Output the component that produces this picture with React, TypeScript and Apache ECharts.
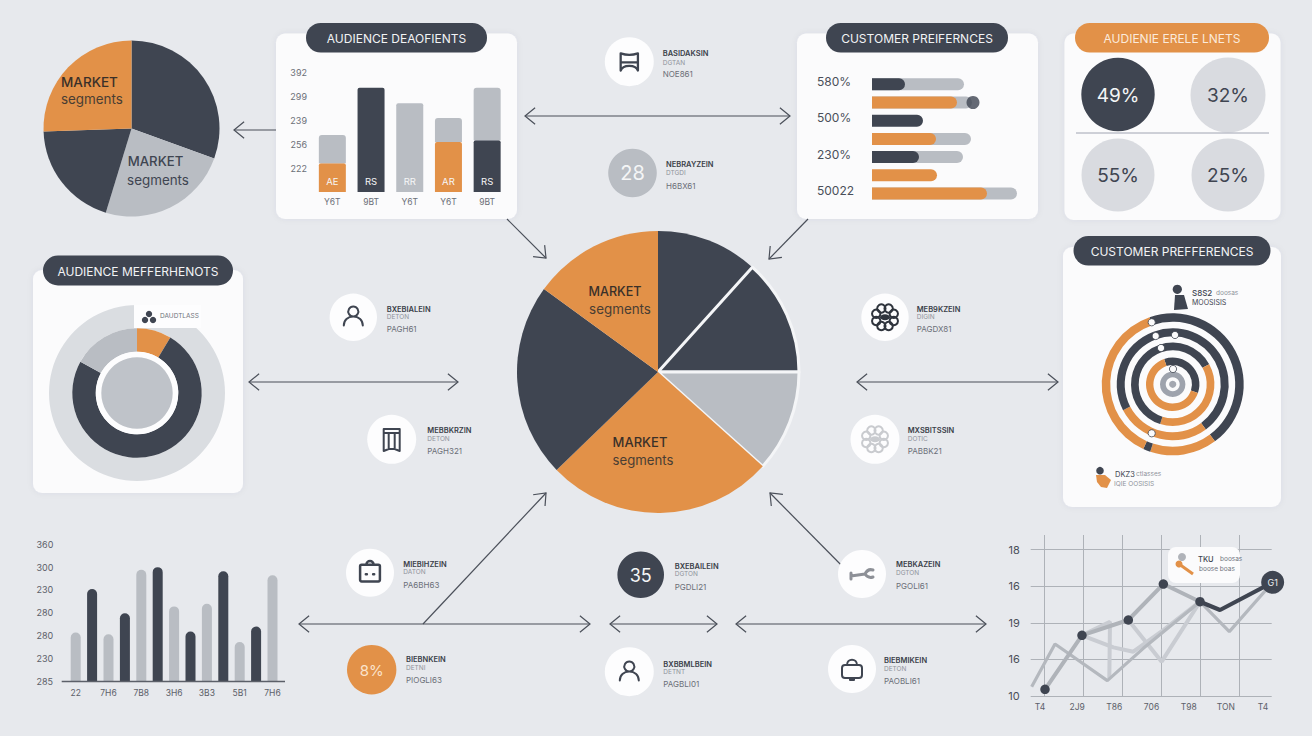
import React, { useEffect, useRef } from "react";
import * as echarts from "echarts";

const DARK = "#3f4551";
const ORANGE = "#e29148";
const GRAY = "#b9bdc3";
const LIGHT = "#d9dbe0";
const BG = "#e7e9ed";
const CARD = "#fbfbfc";
const FONT = "Inter, Roboto, sans-serif";

// ---- data ----
const cornerPieValues = [110, 87, 71, 92];
const centerPieValues = [42, 48, 42, 94, 80, 54];
const donutValues = [31, 268, 61];
const ring1Values = [162.5, 55, 6, 136.5];
const ring2Values = [163.7, 98.8, 97.5];
const ring3Values = [80.5, 136.5, 143];
const ring4Values = [127.7, 232.3];

const audienceCats = ["Y6T", "9BT", "Y6T", "Y6T", "9BT"];
const audienceTicks = ["", "222", "256", "239", "299", "392"];
const audienceLower = [60, 217, 185, 104, 108];
const audienceUpper = [59, 0, 0, 50, 109];
const audienceBarText = ["AE", "RS", "RR", "AR", "RS"];

const prefRows = ["580%", "", "500%", "", "230%", "", "50022"];
const prefTrack = [92, 100, null, 99, 91, null, 145];
const prefFront = [33, 85, 51, 64, 47, 65, 115];
const prefDot = 101;

const columnCats = ["22", "", "7H6", "", "7B8", "", "3H6", "", "3B3", "", "5B1", "", "7H6"];
const columnTicks = ["285", "230", "280", "280", "230", "300", "360"];
const columnValues = [107, 202, 103, 149, 244, 250, 164, 109, 170, 241, 86, 120, 232];

const lineCats = ["T4", "2J9", "T86", "706", "T98", "TON", "T4"];
const lineTicks = ["10", "16", "19", "16", "18"];
const lineMain = [[1.026, 0.182], [1.974, 1.658], [3.162, 2.077], [4.06, 3.06], [5, 2.577]];
const lineMainEnd = [[5, 2.577], [5.513, 2.35], [6.863, 3.106]];
const lineB = [[0.684, 0.255], [1.282, 1.421], [2.624, 0.419], [3.547, 1.302], [5, 2.577], [5.752, 1.758], [6.863, 3.106]];
const lineC = [[1.974, 1.658], [2.692, 2.031], [2.675, 0.483]];
const lineD = [[1.974, 1.658], [2.778, 1.33], [3.291, 1.211], [4.06, 1.803], [5, 2.577]];
const lineE = [[3.162, 2.077], [4.017, 0.938], [5, 2.577]];

const gaugePercents = ["49%", "32%", "55%", "25%"];

const nodeLabels = [
  ["BASIDAKSIN", "DGTAN", "NOE861"],
  ["NEBRAYZEIN", "DTGDI", "H6BX61"],
  ["BXEBIALEIN", "DETON", "PAGH61"],
  ["MEBBKRZIN", "DETON", "PAGH321"],
  ["MEB9KZEIN", "DIGIN", "PAGDX81"],
  ["MXSBITSSIN", "DOTIC", "PABBK21"],
  ["MIEBIHZEIN", "DATON", "PA6BH63"],
  ["BXEBAILEIN", "DGTON", "PGDLI21"],
  ["BIEBNKEIN", "DETNI", "PIOGLI63"],
  ["BXBBMLBEIN", "DETNT", "PAGBLI01"],
  ["MEBKAZEIN", "DGTON", "PGOLI61"],
  ["BIEBMIKEIN", "DETON", "PAOBLI61"],
];

// ---- icons ----
const shapes: Record<string, string> = {
  person: "M12 2.5a5 5 0 1 1-0.01 0z M2.5 21.5c0-5.5 4-9 9.5-9s9.5 3.5 9.5 9",
  chair: "M3 3c6 2 12 2 18 0v18c-1-3-3-5-9-5s-8 2-9 5z M3 12.5h18",
  bin: "M4 1h16v4H4z M4 5v18l5-2V5 M9 21h6V5 M15 21l5 2V5 M20 5v18",
  bag: "M4 6h16a1.5 1.5 0 0 1 1.5 1.5v13a1.5 1.5 0 0 1-1.5 1.5H4a1.5 1.5 0 0 1-1.5-1.5v-13A1.5 1.5 0 0 1 4 6z M8.5 6a3.5 3.5 0 1 1 7 0z M8 15h1 M15 15h1",
  lock: "M5 8h14a3 3 0 0 1 3 3v7a3 3 0 0 1-3 3H5a3 3 0 0 1-3-3v-7a3 3 0 0 1 3-3z M7 8c0-7 10-7 10 0 M10 21v2h4v-2",
  tool: "M1 14l14-2 M15 12c2-4 5-5 8-4 M15 12c2 3 5 4 8 3 M1 11v6",
};
Object.keys(shapes).forEach((k) =>
  echarts.graphic.registerShape("ic_" + k, echarts.graphic.extendPath(shapes[k], {}))
);

const T = (text: string, x: number, y: number, fontSize: number, fill: string, align = "left", fontWeight: any = 400, z = 100) => ({
  type: "text",
  x,
  y,
  z,
  silent: true,
  style: { text, fill, fontSize, fontWeight, fontFamily: FONT, align, verticalAlign: "middle", textAlign: align, textVerticalAlign: "middle" },
});
const C = (cx: number, cy: number, r: number, fill: string, stroke?: string, lineWidth = 0, z = 50) => ({
  type: "circle",
  z,
  silent: true,
  shape: { cx, cy, r },
  style: { fill, stroke, lineWidth },
});
const card = (x: number, y: number, w: number, h: number) => ({
  type: "rect",
  z: -5,
  silent: true,
  shape: { x, y, width: w, height: h, r: 9 },
  style: { fill: CARD, shadowBlur: 6, shadowColor: "rgba(60,70,90,0.06)" },
});
const pill = (x: number, y: number, w: number, h: number, fill: string, text: string, color: string) => [
  { type: "rect", z: 60, silent: true, shape: { x, y, width: w, height: h, r: h / 2 }, style: { fill } },
  T(text, x + w / 2, y + h / 2 + 0.5, 12, color, "center", 400, 61),
];
const icon = (name: string, cx: number, cy: number, size: number, color: string, lineWidth = 2) => ({
  type: "ic_" + name,
  x: cx - size / 2,
  y: cy - size / 2,
  scaleX: size / 24,
  scaleY: size / 24,
  z: 70,
  silent: true,
  style: { fill: "none", stroke: color, lineWidth, lineCap: "round", lineJoin: "round" },
});
const flower = (cx: number, cy: number, color: string, lw: number) => {
  const out: any[] = [];
  for (let i = 0; i < 8; i++) {
    const a = (i * Math.PI) / 4 + Math.PI / 8;
    out.push(C(cx + Math.cos(a) * 9.5, cy + Math.sin(a) * 9.5, 4.2, "none", color, lw, 70));
  }
  out.push({ type: "ellipse", z: 70, silent: true, shape: { cx, cy, rx: 5, ry: 3 }, style: { fill: color } });
  return out;
};

const ARROW = "#4a4f59";
const head = (x: number, y: number, ang: number) => {
  const L = 13;
  const s = 0.68;
  return {
    type: "polyline",
    z: 20,
    silent: true,
    shape: {
      points: [
        [x - L * Math.cos(ang - s), y - L * Math.sin(ang - s)],
        [x, y],
        [x - L * Math.cos(ang + s), y - L * Math.sin(ang + s)],
      ],
    },
    style: { fill: "none", stroke: ARROW, lineWidth: 1.2 },
  };
};
const arrow = (x1: number, y1: number, x2: number, y2: number, both: boolean) => {
  const ang = Math.atan2(y2 - y1, x2 - x1);
  const els: any[] = [
    { type: "line", z: 20, silent: true, shape: { x1, y1, x2, y2 }, style: { stroke: ARROW, lineWidth: 1.2 } },
    head(x2, y2, ang),
  ];
  if (both) els.push(head(x1, y1, ang + Math.PI));
  return els;
};

const node = (i: number, cx: number, cy: number, r: number, fill: string, tx: number, y1: number, y2: number, y3: number) => [
  C(cx, cy, r, fill, undefined, 0, 40),
  T(nodeLabels[i][0], tx, y1, 7.5, "#3a3f49", "left", 600, 45),
  T(nodeLabels[i][1], tx, y2, 6.5, "#8f939b", "left", 400, 45),
  T(nodeLabels[i][2], tx, y3, 8, "#6b6f78", "left", 400, 45),
];

const buildGraphics = () => {
  const e: any[] = [];
  // cards
  e.push(card(276, 33.5, 241, 185.5), card(797, 33.5, 241, 185.5), card(1064.5, 33.5, 216, 186.5), card(33, 270, 210, 223), card(1063, 247, 218, 260));
  e.push(
    ...pill(306, 23, 181, 29.5, DARK, "AUDIENCE DEAOFIENTS", "#f2f3f5"),
    ...pill(826, 23, 182, 29.5, DARK, "CUSTOMER PREIFERNCES", "#f2f3f5"),
    ...pill(1075, 23, 194, 29.5, ORANGE, "AUDIENIE ERELE LNETS", "#fbeadb"),
    ...pill(43, 255.5, 190, 30, DARK, "AUDIENCE MEFFERHENOTS", "#f2f3f5"),
    ...pill(1073.5, 236, 197, 29.5, DARK, "CUSTOMER PREFFERENCES", "#f2f3f5")
  );
  // arrows
  e.push(
    ...arrow(525, 116, 790, 116, true),
    ...arrow(276, 130, 234, 130, false),
    ...arrow(507, 219, 546, 258, false),
    ...arrow(808, 219, 769, 259, false),
    ...arrow(249, 382, 458, 382, true),
    ...arrow(857, 382, 1058, 382, true),
    ...arrow(299, 624, 590, 624, true),
    ...arrow(610, 624, 717, 624, true),
    ...arrow(736, 624, 986, 624, true),
    ...arrow(423, 624, 546, 493, false),
    ...arrow(852, 576, 770, 493, false)
  );
  // nodes
  e.push(...node(0, 629.3, 61.7, 24.5, "#fdfdfe", 662.7, 53.3, 63.3, 74.3), icon("chair", 629.3, 62, 23, DARK, 2.4));
  e.push(...node(1, 632.5, 173, 24.3, GRAY, 666, 164.3, 172.7, 185.7), T("28", 632.5, 173, 20, "#f4f5f6", "center", 400, 70));
  e.push(...node(2, 353.3, 317.3, 23.7, "#fdfdfe", 386.7, 309, 317.3, 329.3), icon("person", 353.3, 316, 24, DARK));
  e.push(...node(3, 391.7, 439.3, 24.5, "#fdfdfe", 427.3, 430, 438.7, 450.7), icon("bin", 391.7, 440, 24, DARK));
  e.push(...node(4, 885, 317.3, 23.7, "#fdfdfe", 916.7, 309, 317.3, 329.3), ...flower(885, 317.3, "#2f343d", 2));
  e.push(...node(5, 875, 439.3, 24.5, "#fdfdfe", 907.7, 430, 438.7, 450.7), ...flower(875, 439.3, "#c9cbcf", 2));
  e.push(...node(6, 370, 572.7, 24, "#fdfdfe", 403.3, 564, 572.3, 585), icon("bag", 370, 571, 25, DARK, 2.4));
  e.push(...node(7, 640.7, 574.7, 23.3, DARK, 674.7, 566, 574.3, 586.7), T("35", 640.7, 575, 18, "#f4f5f6", "center", 400, 70));
  e.push(...node(8, 371.7, 669.7, 24.7, ORANGE, 406, 659.3, 667.7, 680), T("8%", 371.7, 670, 15, "#fbe3cb", "center", 400, 70));
  e.push(...node(9, 629.3, 671.7, 24.5, "#fdfdfe", 663.3, 664, 672.3, 684), icon("person", 629.3, 671, 24, DARK));
  e.push(...node(10, 862, 574, 24, "#fdfdfe", 896, 564.5, 573, 585.5), icon("tool", 862, 574, 24, "#8d9097", 3));
  e.push(...node(11, 852, 669, 24, "#fdfdfe", 884, 660, 669, 681), icon("lock", 852, 669, 24, DARK));
  // pie labels
  e.push(
    T("MARKET", 61, 82, 13.5, "#3a3028", "left", 500),
    T("segments", 61, 99, 13.4, "#4a3e33", "left", 400),
    T("MARKET", 155.5, 161, 13.2, DARK, "center", 500),
    T("segments", 158, 180, 13.4, DARK, "center", 400),
    T("MARKET", 615, 291, 12.6, "#3a3028", "center", 500),
    T("segments", 620, 309, 13.4, "#4a3e33", "center", 400),
    T("MARKET", 640, 442, 13, "#3a3028", "center", 500),
    T("segments", 643, 460, 13.2, "#4a3e33", "center", 400)
  );
  // percent discs
  const discs = [
    [1118, 94.5, 36.7, DARK, "#f4f5f6"],
    [1228, 95, 37.5, LIGHT, DARK],
    [1118, 175, 36.5, LIGHT, DARK],
    [1228, 175, 36.5, LIGHT, DARK],
  ] as const;
  discs.forEach((d, i) => {
    e.push(C(d[0], d[1], d[2], d[3]));
    e.push(T(gaugePercents[i], d[0], d[1] + 0.5, 19, d[4], "center", 400, 55));
  });
  e.push({ type: "line", z: 50, silent: true, shape: { x1: 1076, y1: 133, x2: 1269, y2: 133 }, style: { stroke: "#a0a4b2", lineWidth: 1 } });
  // donut tag
  e.push(
    { type: "rect", z: 30, silent: true, shape: { x: 134, y: 305, width: 67, height: 23 }, style: { fill: "#fdfdfe" } },
    C(145, 320, 3.2, DARK, undefined, 0, 31),
    C(149, 314, 3.2, DARK, undefined, 0, 31),
    C(153, 320, 3.2, DARK, undefined, 0, 31),
    T("DAUDTLASS", 160, 315.7, 6.5, "#70747c", "left", 400, 31)
  );
  // ring labels and dots
  e.push(
    C(1177.3, 289.3, 4.6, DARK),
    { type: "polygon", z: 50, silent: true, shape: { points: [[1175, 295], [1184, 295], [1188, 309], [1174, 310]] }, style: { fill: DARK } },
    T("S8S2", 1192, 292.7, 8, DARK, "left", 500),
    T("doosas", 1216, 292.7, 6.5, "#8f939b"),
    T("MOOSISIS", 1192, 302.7, 7, DARK),
    C(1100, 470.7, 3.8, DARK),
    { type: "polygon", z: 50, silent: true, shape: { points: [[1096, 475], [1105, 475], [1111, 480], [1107, 488], [1101, 487], [1097, 482]] }, style: { fill: ORANGE } },
    T("DKZ3", 1115, 474.3, 7.5, DARK),
    T("ctlasses", 1136, 474.3, 6.5, "#8f939b"),
    T("IQIE OOSISIS", 1114, 484, 6.5, "#8f939b")
  );
  [[1151.7, 322.3], [1155.7, 336], [1175, 335], [1161, 348], [1173, 369], [1151.7, 433.3]].forEach((p) => {
    e.push(C(p[0], p[1], 3.6, "#fbfbfc", DARK, 0.8, 50));
  });
  // line tag
  e.push(
    { type: "rect", z: 50, silent: true, shape: { x: 1168, y: 547, width: 72, height: 36, r: 8 }, style: { fill: "#fbfbfc" } },
    C(1182, 557, 4, "#b0b3b9", undefined, 0, 51),
    { type: "line", z: 51, silent: true, shape: { x1: 1179, y1: 564, x2: 1193, y2: 574 }, style: { stroke: ORANGE, lineWidth: 3 } },
    C(1179, 564, 3.5, ORANGE, undefined, 0, 51),
    T("TKU", 1198, 559, 7.5, DARK, "left", 500, 52),
    T("boosas", 1220, 559, 6.5, "#70747c", "left", 400, 52),
    T("boose boas", 1199, 569, 6.5, "#70747c", "left", 400, 52)
  );
  // bottom-left baseline
  e.push({ type: "line", z: 5, silent: true, shape: { x1: 61.7, y1: 681.5, x2: 285, y2: 681.5 }, style: { stroke: "#5c6069", lineWidth: 1.4 } });
  return e;
};

const pieBase = { type: "pie", silent: true, animation: false, label: { show: false }, labelLine: { show: false }, emphasis: { disabled: true }, avoidLabelOverlap: false };
const ring = (values: number[], colors: string[], inner: number, outer: number, startAngle: number, cx: number, cy: number) => ({
  ...pieBase,
  center: [cx, cy],
  radius: [inner, outer],
  startAngle,
  data: values.map((value, i) => ({ value, itemStyle: { color: colors[i] } })),
});

const thin = (data: number[][], color: string, width: number) => ({
  type: "line",
  xAxisIndex: 4,
  yAxisIndex: 4,
  data,
  symbol: "none",
  silent: true,
  lineStyle: { color, width },
});

const option: any = {
  animation: false,
  backgroundColor: BG,
  graphic: { elements: buildGraphics() },
  grid: [
    { left: 313, top: 72, width: 193.5, height: 120 },
    { left: 872, top: 75.2, width: 160, height: 127.4 },
    { left: 67.5, top: 544.3, width: 213.2, height: 137 },
    { left: 1030.7, top: 535, width: 241, height: 161 },
    { left: 1005, top: 535, width: 273, height: 161 },
    { left: 1040, top: 535, width: 223, height: 161 },
  ],
  xAxis: [
    {
      type: "category",
      gridIndex: 0,
      data: audienceCats,
      axisLine: { show: false },
      axisTick: { show: false },
      axisLabel: { color: "#6b6f78", fontSize: 8.5, margin: 5, fontFamily: FONT },
    },
    { type: "value", gridIndex: 1, min: 0, max: 160, show: false },
    {
      type: "category",
      gridIndex: 2,
      data: columnCats,
      axisLine: { show: false },
      axisTick: { show: false },
      axisLabel: { color: "#5c6069", fontSize: 8.5, margin: 7, interval: 0, fontFamily: FONT },
    },
    { type: "value", gridIndex: 3, min: 0, max: 1, show: false },
    {
      type: "value",
      gridIndex: 4,
      min: 0,
      max: 7,
      interval: 1,
      axisLine: { show: false },
      axisTick: { show: false },
      axisLabel: { show: false },
      splitLine: { show: true, showMinLine: false, showMaxLine: false, lineStyle: { color: "#aeb2b8", width: 1 } },
    },
    {
      type: "category",
      gridIndex: 5,
      data: lineCats,
      boundaryGap: false,
      axisLine: { show: false },
      axisTick: { show: false },
      axisLabel: { color: "#5c6069", fontSize: 8.5, margin: 6, interval: 0, fontFamily: FONT },
    },
  ],
  yAxis: [
    {
      type: "value",
      gridIndex: 0,
      min: 0,
      max: 250,
      interval: 50,
      axisLine: { show: false },
      axisTick: { show: false },
      splitLine: { show: false },
      axisLabel: { color: "#6b6f78", fontSize: 9, margin: 6, fontFamily: FONT, formatter: (v: number) => audienceTicks[v / 50] },
    },
    {
      type: "category",
      gridIndex: 1,
      inverse: true,
      data: prefRows,
      axisLine: { show: false },
      axisTick: { show: false },
      axisLabel: { color: "#4a4f59", fontSize: 12, align: "left", margin: 55, interval: 0, verticalAlign: "bottom", lineHeight: 6, fontFamily: FONT },
    },
    {
      type: "value",
      gridIndex: 2,
      min: 0,
      max: 300,
      interval: 50,
      axisLine: { show: false },
      axisTick: { show: false },
      splitLine: { show: false },
      axisLabel: { color: "#5c6069", fontSize: 9, align: "left", margin: 31, fontFamily: FONT, formatter: (v: number) => columnTicks[v / 50] },
    },
    {
      type: "value",
      gridIndex: 3,
      min: 0,
      max: 4.4,
      interval: 1,
      axisLine: { show: false },
      axisTick: { show: false },
      splitLine: { show: true, showMaxLine: false, lineStyle: { color: "#aeb2b8", width: 1 } },
      axisLabel: {
        color: "#4a4f59",
        fontSize: 11,
        margin: 11,
        fontFamily: FONT,
        showMaxLabel: false,
        formatter: (v: number) => lineTicks[v] ?? "",
      },
    },
    { type: "value", gridIndex: 4, min: 0, max: 4.4, show: false },
    { type: "value", gridIndex: 5, min: 0, max: 1, show: false },
  ],
  series: [
    // corner pie
    ring(cornerPieValues, [DARK, GRAY, DARK, ORANGE], 0, 88, 90, 131.5, 128.5),
    // centre pie
    {
      ...ring(centerPieValues, [DARK, DARK, GRAY, ORANGE, DARK, ORANGE], 0, 141, 90, 658, 372),
      data: centerPieValues.map((value, i) => ({
        value,
        itemStyle: {
          color: [DARK, DARK, GRAY, ORANGE, DARK, ORANGE][i],
          borderColor: i === 1 || i === 2 ? "#f4f5f7" : undefined,
          borderWidth: i === 1 || i === 2 ? 3 : 0,
        },
      })),
    },
    // donut
    ring([1], ["#dadde1"], 64.7, 88, 90, 137, 393),
    ring(donutValues, [ORANGE, DARK, GRAY], 41.3, 64.7, 90, 137, 393),
    ring([1], ["#fdfdfe"], 35.7, 41.3, 90, 137, 393),
    ring([1], ["#bfc3c9"], 0, 35.7, 90, 137, 393),
    // concentric rings
    ring(ring1Values, [DARK, ORANGE, DARK, ORANGE], 62.5, 71, 109, 1172.7, 384.3),
    ring(ring2Values, [DARK, ORANGE, DARK], 48, 56, 110, 1172.7, 384.3),
    ring(ring3Values, [DARK, ORANGE, DARK], 34, 41.7, 109.4, 1172.7, 384.3),
    ring(ring4Values, [DARK, ORANGE], 19.3, 26.7, 108.7, 1172.7, 384.3),
    ring([1], ["#9ea3ad"], 7, 12.7, 90, 1172.7, 384.3),
    ring([1], ["#a4a8b1"], 0, 3.6, 90, 1172.7, 384.3),
    // audience bars
    {
      type: "bar",
      xAxisIndex: 0,
      yAxisIndex: 0,
      stack: "a",
      barWidth: 27,
      silent: true,
      data: audienceLower.map((value, i) => ({
        value,
        itemStyle: { color: [ORANGE, DARK, GRAY, ORANGE, DARK][i], borderRadius: [2, 2, 0, 0] },
        label: { show: true, formatter: audienceBarText[i], position: "insideBottom", distance: 6, color: "#f6f6f7", fontSize: 9.5, fontFamily: FONT },
      })),
    },
    {
      type: "bar",
      xAxisIndex: 0,
      yAxisIndex: 0,
      stack: "a",
      barWidth: 27,
      silent: true,
      itemStyle: { color: GRAY, borderRadius: [3, 3, 0, 0] },
      data: audienceUpper,
    },
    // preference bars
    {
      type: "bar",
      xAxisIndex: 1,
      yAxisIndex: 1,
      barWidth: 12,
      barGap: "-100%",
      silent: true,
      itemStyle: { color: GRAY, borderRadius: [0, 6, 6, 0] },
      data: prefTrack,
    },
    {
      type: "bar",
      xAxisIndex: 1,
      yAxisIndex: 1,
      barWidth: 12,
      barGap: "-100%",
      silent: true,
      data: prefFront.map((value, i) => ({ value, itemStyle: { color: i % 2 === 0 && i < 6 ? DARK : ORANGE, borderRadius: [0, 6, 6, 0] } })),
    },
    {
      type: "scatter",
      xAxisIndex: 1,
      yAxisIndex: 1,
      symbolSize: 13,
      silent: true,
      itemStyle: { color: DARK },
      data: [[prefDot, 1]],
    },
    // columns
    {
      type: "bar",
      xAxisIndex: 2,
      yAxisIndex: 2,
      barWidth: 10,
      silent: true,
      data: columnValues.map((value, i) => ({
        value,
        itemStyle: { color: i % 2 === 0 ? GRAY : DARK, borderRadius: [5, 5, 0, 0] },
      })),
    },
    // line panel
    thin(lineC, "#c9ccd2", 4),
    thin(lineD, "#c9ccd2", 4),
    thin(lineE, "#c9ccd2", 4),
    thin(lineB, "#b4b8be", 3.2),
    {
      type: "line",
      xAxisIndex: 4,
      yAxisIndex: 4,
      data: lineMain,
      silent: true,
      symbol: "circle",
      symbolSize: 9.5,
      itemStyle: { color: DARK },
      lineStyle: { color: "#afb3b9", width: 4 },
    },
    {
      type: "line",
      xAxisIndex: 4,
      yAxisIndex: 4,
      silent: true,
      symbol: "circle",
      symbolSize: 1,
      itemStyle: { color: DARK },
      lineStyle: { color: DARK, width: 4.2 },
      data: lineMainEnd.map((value, i) =>
        i === lineMainEnd.length - 1
          ? { value, symbolSize: 23, label: { show: true, position: "inside", formatter: "G1", color: "#eceef0", fontSize: 9, fontFamily: FONT } }
          : { value }
      ),
    },
  ],
};

export default function App() {
  const ref = useRef<HTMLDivElement>(null);
  useEffect(() => {
    const chart = echarts.init(ref.current!, undefined, { renderer: "svg" });
    chart.setOption(option);
    return () => chart.dispose();
  }, []);
  return <div ref={ref} style={{ position: "absolute", left: 0, top: 0, width: 1312, height: 736 }} />;
}
